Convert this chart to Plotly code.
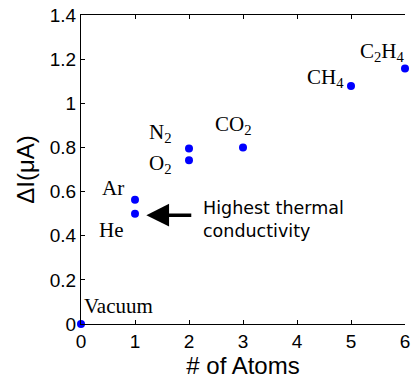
import plotly.graph_objects as go

# Measured current change versus number of atoms in the gas molecule
gases = ["Vacuum", "He", "Ar", "N<sub>2</sub>", "O<sub>2</sub>", "CO<sub>2</sub>", "CH<sub>4</sub>", "C<sub>2</sub>H<sub>4</sub>"]
atoms = [0, 1, 1, 2, 2, 3, 5, 6]
delta_i = [0.0, 0.50, 0.563, 0.795, 0.742, 0.80, 1.078, 1.158]

# label anchor offsets (data units) relative to each point
label_dx = [0.69, -0.44, -0.41, -0.53, -0.53, -0.17, -0.47, -0.42]
label_dy = [0.082, -0.074, 0.054, 0.071, -0.016, 0.102, 0.038, 0.075]

x_ticks = [0, 1, 2, 3, 4, 5, 6]
y_ticks = [0, 0.2, 0.4, 0.6, 0.8, 1.0, 1.2, 1.4]
y_tick_text = ["0", "0.2", "0.4", "0.6", "0.8", "1", "1.2", "1.4"]

fig = go.Figure()
fig.add_trace(go.Scatter(
    x=atoms, y=delta_i, mode="markers",
    marker=dict(color="#0000ff", size=8, line=dict(width=0)),
    cliponaxis=False, showlegend=False, hoverinfo="skip",
))

serif = "Liberation Serif, Times New Roman, serif"
for name, xv, yv, dx, dy in zip(gases, atoms, delta_i, label_dx, label_dy):
    fig.add_annotation(
        x=xv + dx, y=yv + dy, text=name, showarrow=False,
        xanchor="center", yanchor="middle",
        font=dict(family=serif, size=21, color="black"),
    )

# arrow pointing at helium
fig.add_annotation(
    x=1.21, y=0.493, ax=2.07, ay=0.493, axref="x", ayref="y",
    xref="x", yref="y", text="", showarrow=True,
    arrowhead=2, arrowsize=1.3, arrowwidth=3.5, arrowcolor="black",
)
fig.add_annotation(
    x=2.23, y=0.475, text="Highest thermal<br>conductivity",
    showarrow=False, xanchor="left", yanchor="middle", align="left",
    font=dict(family="DejaVu Sans, sans-serif", size=17.5, color="black"),
)

tick_font = dict(family="Liberation Sans, Arial, sans-serif", size=19, color="black")
title_font = dict(family="Liberation Sans, Arial, sans-serif", size=24, color="black")
fig.update_xaxes(
    range=[0, 6], tickvals=x_ticks, ticks="inside", ticklen=4, tickcolor="black",
    showline=True, linecolor="black", linewidth=1.3, mirror="ticks",
    showgrid=False, zeroline=False, tickfont=tick_font, automargin=False,
    title=dict(text="# of Atoms", font=title_font, standoff=3),
)
fig.update_yaxes(
    range=[0, 1.4], tickvals=y_ticks, ticktext=y_tick_text, ticks="inside", ticklen=4,
    tickcolor="black", showline=True, linecolor="black", linewidth=1.3, mirror=False,
    showgrid=False, zeroline=False, tickfont=tick_font, automargin=False,
    title=dict(text="ΔI(μA)", font=title_font, standoff=8),
)
fig.update_layout(
    width=411, height=381,
    margin=dict(l=80.5, r=5.5, t=15.3, b=57),
    plot_bgcolor="white", paper_bgcolor="white",
)
fig.write_html("out.html")
